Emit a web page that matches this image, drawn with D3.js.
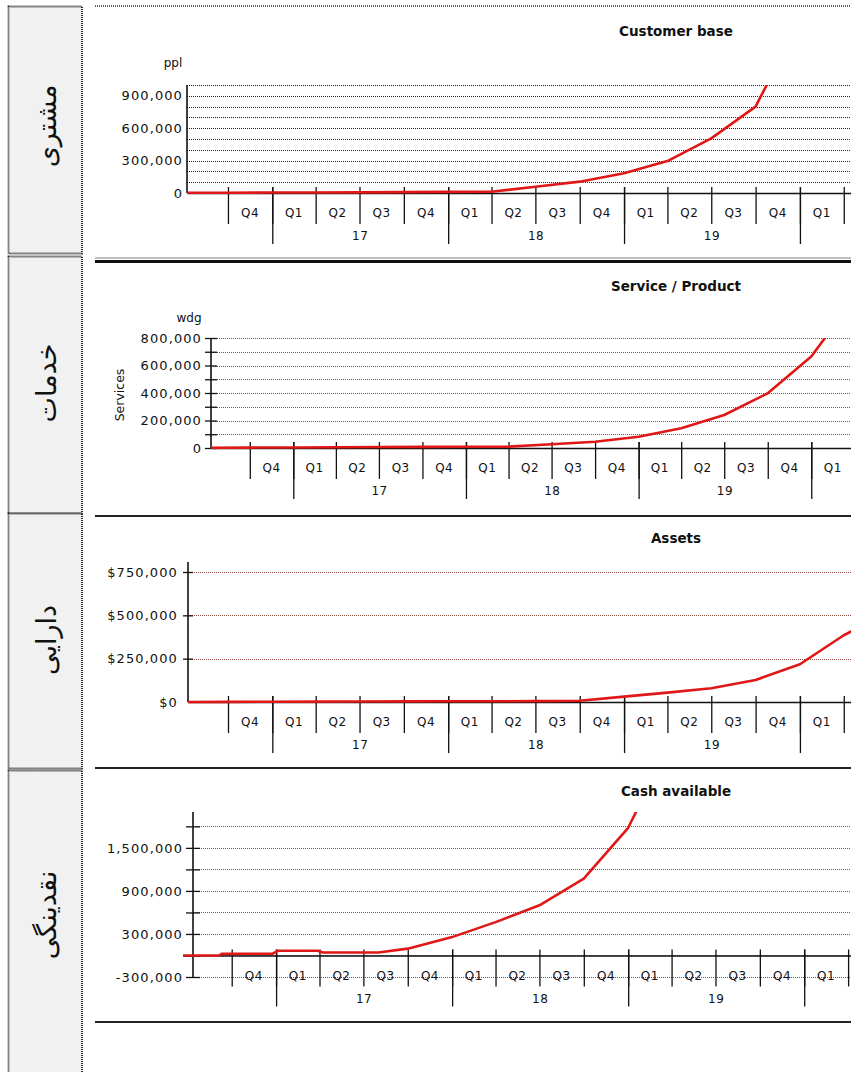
<!DOCTYPE html>
<html><head><meta charset="utf-8">
<script src="https://cdn.jsdelivr.net/npm/d3@7/dist/d3.min.js"></script>
<style>
body{margin:0;background:#fff}
svg{display:block}
text{font-family:"DejaVu Sans",Verdana,sans-serif;fill:#111}
</style>
</head><body>
<svg id="c" width="851" height="1072"></svg>
<script>
// ---------- data ----------
const sideLabels = ["مشتری", "خدمات", "دارایی", "نقدینگی"];
const chartTitles = ["Customer base", "Service / Product", "Assets", "Cash available"];
const unitLabels = ["ppl", "wdg", "", ""];

const quarterStarts = ["2016-10-01","2017-01-01","2017-04-01","2017-07-01","2017-10-01","2018-01-01","2018-04-01","2018-07-01","2018-10-01","2019-01-01","2019-04-01","2019-07-01","2019-10-01","2020-01-01","2020-04-01"];
const quarterNames = ["Q4","Q1","Q2","Q3","Q4","Q1","Q2","Q3","Q4","Q1","Q2","Q3","Q4","Q1"];
const yearStarts = ["2017-01-01","2018-01-01","2019-01-01","2020-01-01"];
const yearNames = ["17","18","19"];

const seriesDates = ["2016-07-01","2016-10-01","2017-01-01","2017-04-01","2017-07-01","2017-10-01","2018-01-01","2018-04-01","2018-07-01","2018-10-01","2019-01-01","2019-04-01","2019-07-01","2019-10-01","2020-01-01","2020-04-01","2020-07-01"];
const customerValues = [2000, 3000, 4000, 5000, 6000, 8000, 10000, 12000, 58000, 105000, 182000, 296000, 506000, 800000, 1600000, 2400000, 3200000];
const serviceValues  = [2000, 3000, 4000, 6000, 7000, 8000, 9000, 10000, 27000, 46000, 82000, 143000, 240000, 398000, 665000, 1090000, 1600000];
const assetValues    = [0, 1000, 1500, 2000, 3000, 3500, 4000, 4500, 5000, 7500, 31000, 54000, 79000, 127000, 218000, 385000, 520000];

const cashDates  = ["2016-06-15","2016-09-05","2016-09-10","2016-12-25","2017-01-05","2017-03-28","2017-04-08","2017-08-01","2017-10-01","2018-01-01","2018-04-01","2018-07-01","2018-10-01","2019-01-01","2019-04-01"];
const cashValues = [0, 0, 22000, 25000, 66000, 66000, 42000, 42000, 95000, 256000, 465000, 700000, 1070000, 1780000, 3000000];

const customerTicks = [100000,200000,300000,400000,500000,600000,700000,800000,900000,1000000];
const customerLabels = [0, 300000, 600000, 900000];
const serviceTicks = [0,100000,200000,300000,400000,500000,600000,700000,800000];
const serviceLabels = [0, 200000, 400000, 600000, 800000];
const assetTicks = [250000, 500000, 750000];
const assetLabels = [0, 250000, 500000, 750000];
const cashTicks = [-300000,0,300000,600000,900000,1200000,1500000,1800000];
const cashLabels = [-300000, 300000, 900000, 1500000];

// ---------- layout ----------
const W = 851;
const parse = d3.utcParse("%Y-%m-%d");
const boxes = [
  {y0: 6, y1: 253, cy: 126},
  {y0: 256, y1: 513, cy: 383},
  {y0: 513, y1: 768, cy: 640},
  {y0: 770, y1: 1080, cy: 915}
];
const comma = d => (d < 0 ? "-" : "") + d3.format(",")(Math.abs(d));
const dollar = d => "$" + d3.format(",")(d);

const panels = [
  {dates: seriesDates, values: customerValues, xDom: ["2016-07-08","2020-04-16"], x0: 187, axisX: 187,
   yDom: [0, 1000000], yRange: [193, 85], axisTop: 85, grid: customerTicks, ticks: customerLabels, labels: customerLabels,
   fmt: comma, tick: 0, gridColor: "#222", titleY: 31, unitX: 173, unitY: 63, labelRight: 183},
  {dates: seriesDates, values: serviceValues, xDom: ["2016-07-11","2020-03-25"], x0: 211, axisX: 211,
   yDom: [0, 800000], yRange: [448, 338], axisTop: 338, grid: serviceTicks.slice(1), ticks: serviceTicks, labels: serviceLabels,
   fmt: comma, tick: 6, gridColor: "#8a4a3a", titleY: 286, unitX: 189, unitY: 318, labelRight: 202},
  {dates: seriesDates, values: assetValues, xDom: ["2016-07-10","2020-04-16"], x0: 188, axisX: 188,
   yDom: [0, 750000], yRange: [702, 572], axisTop: 562, grid: assetTicks, ticks: assetTicks, labels: assetLabels,
   fmt: dollar, tick: 5, gridColor: "#8a4a3a", titleY: 538, labelRight: 178},
  {dates: cashDates, values: cashValues, xDom: ["2016-06-22","2020-04-07"], x0: 183, axisX: 193,
   yDom: [-300000, 2000000], yRange: [977, 812], axisTop: 812, grid: cashTicks, ticks: cashTicks, labels: cashLabels,
   fmt: comma, tick: 7, gridColor: "#8a4a3a", titleY: 791, labelRight: 183}
];

const svg = d3.select("#c");

// left side boxes
boxes.forEach((b, i) => {
  svg.append("rect").attr("x", 8.5).attr("y", b.y0 + 0.5).attr("width", 73.5).attr("height", b.y1 - b.y0)
    .attr("fill", "#f1f1f1").attr("stroke", "#111").attr("stroke-width", 1.8).attr("stroke-dasharray", "1,1");
  svg.append("text").attr("transform", `translate(47,${b.cy}) rotate(-90)`)
    .attr("text-anchor", "middle").attr("dy", "0.35em").attr("font-size", 27)
    .style("font-family", "'DejaVu Sans', sans-serif").text(sideLabels[i]);
});

// separator lines on the right
svg.append("line").attr("x1", 95).attr("x2", W).attr("y1", 6).attr("y2", 6)
  .attr("stroke", "#666").attr("stroke-width", 2).attr("stroke-dasharray", "1,1");
svg.append("line").attr("x1", 95).attr("x2", W).attr("y1", 258).attr("y2", 258).attr("stroke", "#aaa").attr("stroke-width", 1.5);
svg.append("line").attr("x1", 95).attr("x2", W).attr("y1", 261.5).attr("y2", 261.5).attr("stroke", "#111").attr("stroke-width", 3);
[516, 768, 1022].forEach(y => svg.append("line").attr("x1", 95).attr("x2", W).attr("y1", y).attr("y2", y)
  .attr("stroke", "#222").attr("stroke-width", 2));

panels.forEach((p, i) => {
  const g = svg.append("g");
  const x = d3.scaleUtc().domain(p.xDom.map(parse)).range([p.x0, W]);
  const y = d3.scaleLinear().domain(p.yDom).range(p.yRange);
  const zeroY = y(0);

  // title
  g.append("text").attr("x", 676).attr("y", p.titleY).attr("dy", "0.35em").attr("text-anchor", "middle")
    .attr("font-weight", "bold").attr("font-size", 13.5).text(chartTitles[i]);
  if (unitLabels[i]) {
    g.append("text").attr("x", p.unitX).attr("y", p.unitY).attr("dy", "0.35em").attr("text-anchor", "middle")
      .attr("font-size", 12).text(unitLabels[i]);
  }
  if (i === 1) {
    g.append("text").attr("transform", "translate(120,395) rotate(-90)").attr("text-anchor", "middle")
      .attr("dy", "0.35em").attr("font-size", 12.5).text("Services");
  }

  // grid lines
  g.append("g").selectAll("line").data(p.grid).join("line")
    .attr("x1", p.axisX).attr("x2", W).attr("y1", d => Math.round(y(d)) + 0.5).attr("y2", d => Math.round(y(d)) + 0.5)
    .attr("stroke", p.gridColor).attr("stroke-width", 1).attr("stroke-dasharray", "1,1");

  // y axis
  const labelSet = new Set(p.labels);
  const yAxis = d3.axisLeft(y).tickValues(Array.from(new Set([...p.ticks, ...p.labels])).sort((a, b) => a - b))
    .tickSizeInner(p.tick).tickSizeOuter(0).tickPadding(p.axisX - p.labelRight - p.tick)
    .tickFormat(d => labelSet.has(d) ? p.fmt(d) : "");
  const ya = g.append("g").attr("transform", `translate(${p.axisX},0)`).call(yAxis);
  ya.select(".domain").remove();
  ya.selectAll(".tick line").attr("x1", d => (p.ticks.includes(d) && p.tick > 0) ? p.tick : 0)
    .attr("x2", d => (p.ticks.includes(d) && p.tick > 0) ? -p.tick : 0)
    .attr("stroke", "#111").attr("stroke-width", 1.3);
  ya.selectAll(".tick text").attr("font-size", 13).attr("letter-spacing", "1.1px")
    .style("font-family", "'DejaVu Sans', Verdana, sans-serif").attr("fill", "#222");
  g.append("line").attr("x1", p.axisX).attr("x2", p.axisX).attr("y1", p.axisTop).attr("y2", p.yRange[0])
    .attr("stroke", "#111").attr("stroke-width", 1.6);

  // x axis: quarter ticks
  const qDates = quarterStarts.map(parse);
  const xa = g.append("g").attr("transform", `translate(0,${zeroY})`)
    .call(d3.axisBottom(x).tickValues(qDates).tickSizeInner(31).tickSizeOuter(0).tickFormat(""));
  xa.select(".domain").attr("stroke", "#111").attr("stroke-width", 1.6);
  xa.selectAll(".tick line").attr("y1", -6).attr("stroke", "#111").attr("stroke-width", 1.3);
  // year ticks (longer)
  const yDates = yearStarts.map(parse);
  const xb = g.append("g").attr("transform", `translate(0,${zeroY})`)
    .call(d3.axisBottom(x).tickValues(yDates).tickSizeInner(51).tickSizeOuter(0).tickFormat(""));
  xb.select(".domain").remove();
  xb.selectAll(".tick line").attr("y1", -6).attr("stroke", "#111").attr("stroke-width", 1.3);

  // quarter labels
  g.append("g").selectAll("text").data(quarterNames).join("text")
    .attr("x", (d, k) => (x(qDates[k]) + x(qDates[k + 1])) / 2)
    .attr("y", zeroY + 20).attr("dy", "0.35em").attr("text-anchor", "middle")
    .attr("font-size", 12).attr("letter-spacing", "0.5px").text(d => d);
  g.append("g").selectAll("text").data(yearNames).join("text")
    .attr("x", (d, k) => (x(yDates[k]) + x(yDates[k + 1])) / 2)
    .attr("y", zeroY + 43).attr("dy", "0.35em").attr("text-anchor", "middle")
    .attr("font-size", 12).attr("letter-spacing", "0.5px").text(d => d);

  // data line, clipped to plot area
  const clipId = "clip" + i;
  svg.append("clipPath").attr("id", clipId).append("rect")
    .attr("x", p.x0).attr("y", p.yRange[1]).attr("width", W - p.x0).attr("height", p.yRange[0] - p.yRange[1] + 40);
  const pts = p.dates.map((d, k) => ({date: parse(d), value: p.values[k]}));
  g.append("path").datum(pts).attr("clip-path", `url(#${clipId})`)
    .attr("fill", "none").attr("stroke", "#e01717").attr("stroke-width", 2.6).attr("stroke-linejoin", "round")
    .attr("d", d3.line().x(d => x(d.date)).y(d => y(d.value)));
});
</script>
</body></html>
